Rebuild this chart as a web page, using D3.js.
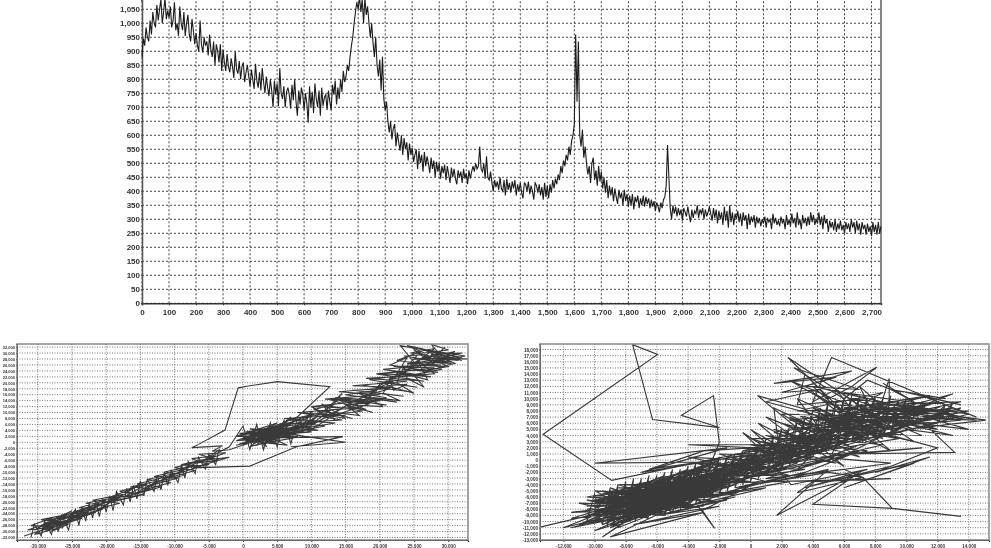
<!DOCTYPE html>
<html>
<head>
<meta charset="utf-8">
<script src="https://cdn.jsdelivr.net/npm/d3@7"></script>
<style>
html, body { margin: 0; padding: 0; background: #fff; overflow: hidden; }
svg { display: block; filter: blur(0.45px); }
text { font-family: "Liberation Sans", Arial, sans-serif; font-weight: bold; fill: #333; }
</style>
</head>
<body>
<script>
// Spectrum, one value every 5 units of x
var spectrumStep = 5;
var spectrum = [
880,945,920,985,950,935,1010,960,1040,1000,985,1065,1010,1050,1085,1000,1040,1090,1015,1045,
1020,1060,985,1010,1075,975,1000,955,1060,1000,975,1040,955,1000,1030,960,935,1015,975,925,
965,920,900,1010,925,895,950,920,935,885,960,905,880,935,850,925,900,860,925,830,
905,860,830,890,845,825,875,845,805,900,835,820,865,800,845,860,790,825,850,810,
775,835,800,765,855,795,770,825,760,840,790,750,810,770,740,800,760,700,795,745,
785,705,840,750,730,775,700,755,770,745,695,780,725,800,720,670,760,710,770,745,
690,750,715,645,775,700,755,680,785,730,700,760,670,770,705,735,745,690,760,720,
690,780,745,795,710,770,730,800,755,830,790,810,850,830,880,920,950,1000,1040,1075,
1050,1095,1040,1085,1000,1090,1030,1060,1000,950,1000,930,880,950,850,810,870,760,880,730,
690,720,650,610,650,585,625,640,560,610,575,545,600,530,590,550,575,510,570,530,
555,505,530,550,480,545,500,530,470,540,490,525,500,465,520,480,510,450,505,470,
500,445,490,465,495,440,490,460,430,485,450,480,445,425,475,450,470,430,480,445,
465,425,475,445,470,490,470,500,480,490,560,480,470,500,445,525,450,440,470,430,
400,440,415,435,405,450,410,400,440,385,445,405,430,395,435,410,440,385,425,400,
430,395,375,430,425,400,435,390,420,400,370,430,420,395,425,385,415,370,430,380,
420,375,425,395,440,410,445,425,460,440,490,465,510,490,530,510,560,530,580,600,
640,960,720,935,600,560,620,520,560,500,460,490,430,500,520,440,475,420,490,435,
470,410,450,395,440,375,420,385,415,365,410,380,355,405,375,395,350,405,365,390,
345,385,350,390,335,380,360,385,340,375,350,385,345,380,355,375,340,370,345,365,
330,360,345,325,360,340,370,380,420,565,450,340,300,350,320,345,310,340,315,335,
295,340,325,310,345,315,290,335,305,330,320,350,305,335,320,340,300,335,310,325,
345,320,295,340,305,335,285,330,300,325,280,345,295,330,270,350,290,325,280,320,
300,330,290,320,275,325,295,315,265,320,280,310,290,315,270,310,285,305,275,300,
285,310,270,305,290,300,265,320,285,305,280,295,275,310,285,300,265,315,280,300,
275,320,285,305,270,325,280,300,265,315,285,305,275,310,280,325,290,315,280,300,
285,325,280,310,265,315,285,300,255,295,270,290,260,300,255,285,265,295,260,280,
250,290,265,285,255,300,270,290,250,295,260,285,245,290,265,280,245,285,255,275,
240,290,255,280,245,290,250,275
];
var spectrumXTicks = d3.range(0, 2701, 100);
var spectrumYTicks = d3.range(0, 1051, 50);

// Lower left plot, traced as one long line
var leftPath = [
[-32000,-31500],[-28000,-28500],[-31500,-29500],[-27000,-26000],[-30500,-31000],[-26500,-28500],[-31000,-28000],[-28000,-25500],[-29500,-30500],[-25500,-26500],
[-30000,-28500],[-26000,-24000],[-29000,-29500],[-24500,-26000],[-28500,-27500],[-24000,-23500],[-29500,-26000],[-25500,-27500],[-28000,-30000],[-24000,-24500],
[-27500,-26500],[-23000,-22500],[-27000,-28000],[-23500,-25500],[-29000,-27500],[-25000,-23000],[-30500,-29500],[-26000,-27000],[-28500,-26000],[-22500,-24000],
[-26500,-25000],[-22000,-21500],[-26000,-27000],[-21500,-23500],[-25500,-24000],[-21000,-20500],[-24500,-25500],[-20500,-22500],[-24000,-22000],[-20000,-19500],
[-23500,-24500],[-19500,-21500],[-23000,-20500],[-18500,-18500],[-22500,-23000],[-18000,-20500],[-22000,-19500],[-17500,-17500],[-21000,-22500],[-18500,-18500],
[-20500,-20500],[-15500,-18000],[-19500,-18500],[-16000,-15500],[-19000,-20000],[-14500,-17500],[-18000,-16500],[-14000,-14000],[-17500,-18500],[-13500,-15500],
[-16500,-15000],[-12500,-13000],[-16000,-17500],[-12000,-15000],[-15500,-14000],[-11000,-11500],[-14500,-16000],[-10500,-13500],[-14000,-12500],[-10000,-10500],
[-13500,-14500],[-9500,-12000],[-13000,-11500],[-8500,-9000],[-12000,-13000],[-8500,-11000],[-11500,-10000],[-7500,-8000],[-11000,-12000],[-7000,-9500],
[-10000,-8500],[-6500,-6500],[-9500,-10500],[-6000,-8000],[-9000,-7500],[-5000,-5500],[-8500,-8500],[-5000,-7500],[-7500,-5500],[-4000,-4500],
[-7000,-7000],[-3500,-6000],[-6500,-4000],[-2500,-3500],[-5500,-6000],[-2000,-5000],[-7300,-8600],[1000,-8000],[7850,-1500],[14600,1900],
[4000,1500],[-1000,-1000],[2500,1000],[-2000,-2500],[-4500,-3000],[-3000,-1200],[-7500,-1800],[-6500,-700],[-2630,4100],[-700,18300],
[1000,19000],[5000,20400],[12700,18700],[7000,6500],[1000,3500],[4500,1000],[-500,1000],[5500,4500],[500,-500],[6500,2500],
[1500,3500],[5000,-500],[-500,2500],[7000,4000],[1500,500],[4500,5000],[-1000,500],[8000,2000],[2000,2500],[3500,-1500],
[500,3500],[6000,5500],[2500,-500],[7500,1500],[-500,3000],[4000,3500],[1000,-1500],[8500,3500],[2500,4500],[5500,500],
[0,1500],[7000,6000],[3000,500],[6000,2000],[-1000,2000],[5000,6500],[1500,1500],[8500,5500],[3500,2000],[6500,-1000],
[500,500],[4000,5500],[2000,-1000],[9000,4000],[1000,4500],[5000,2500],[-500,-500],[7500,4500],[3000,3000],[10000,3500],
[2000,2000],[6000,4000],[1000,2500],[8000,7500],[4000,3000],[9500,5500],[3000,1000],[7000,8500],[5000,3500],[10500,6500],
[6000,6000],[11000,4000],[4500,4500],[9000,8500],[7500,3500],[12000,5500],[8000,6500],[10500,9500],[6500,7500],[13500,6500],
[9500,5000],[12500,9000],[8000,10000],[14500,7500],[10500,7000],[13000,11000],[9000,8500],[15000,9000],[11000,9500],[13500,13000],
[10500,11000],[16000,8000],[12000,10500],[14500,16500],[13000,12000],[17500,10500],[14000,9500],[18500,13000],[12500,14500],[19000,10000],
[15000,12500],[20000,14000],[13500,15000],[21000,12500],[16500,14000],[19500,17500],[15000,16000],[22500,13500],[17500,15500],[21500,18000],
[16000,17500],[23500,15500],[18500,17000],[22000,20500],[17500,19000],[24500,17000],[19500,18500],[23000,22500],[18500,21000],[25500,18500],
[20500,20000],[24000,24000],[19500,23000],[26500,20500],[21500,21500],[25000,25500],[20500,24500],[27500,22000],[22500,23000],[24000,28500],
[21500,26000],[28500,23500],[23500,24500],[26000,30500],[22500,27500],[29500,25500],[24500,26000],[27000,29500],[23500,29000],[30500,26500],
[25500,27000],[28000,31500],[24500,30000],[31500,27500],[26500,28500],[29000,30000],[23000,32500],[25500,25500],[30000,28500],[27000,31000],
[32500,29000],[28000,27000],[31000,30500],[26000,28000],[33000,28000],[29000,28500],[32000,30000],[27500,29500],[30500,27000],[25000,28000],
[31500,28500],[24000,26500],[29000,26000],[22000,25500],[28000,25000],[20000,23000],[26000,22500],[18000,21500],[24000,20500],[16000,19000],
[22000,18500],[14000,17000],[20000,16000],[12000,14500],[18000,14000],[10000,12000],[16000,11500],[8000,10000],[14000,9000],[6000,8000],
[12000,7000],[5000,6000],[10000,5000],[3000,4500],[9000,2000],[15000,0],[7000,-1500]
];

// second pass of the left band, crossing the first one
var leftExtra = [
[-31000,-32000],[-30500,-27500],[-29500,-31500],[-29000,-26500],[-28000,-31000],[-27500,-26000],[-27000,-30000],[-26500,-24500],[-25500,-29500],[-25000,-24000],
[-26500,-29000],[-24500,-22500],[-24000,-28000],[-23500,-22000],[-23000,-26500],[-22500,-20500],[-22000,-25500],[-21500,-20000],[-21000,-25000],[-20500,-19000],
[-20000,-23500],[-19500,-18000],[-19000,-23000],[-18500,-16500],[-17500,-21000],[-17000,-15500],[-16500,-20000],[-16000,-14500],[-15500,-19000],[-15000,-13000],
[-14500,-18000],[-14000,-12500],[-13000,-16500],[-12500,-11000],[-12000,-16000],[-11500,-10000],[-11000,-14500],[-10500,-9500],[-9500,-13500],[-9000,-7500],
[-8500,-12000],[-8000,-6500],[-7000,-10500],[-6500,-5000],[-5500,-9000],[-5000,-4000],[-4000,-7500],[-3500,-2500],[-6000,-6500],[-2000,-1500],
[0,5500],[1000,-2500],[2000,6000],[3000,-2500],[4000,6500],[5000,-1500],[6000,7500],[7000,-500],[8000,8500],[3000,4000],
[0,-1000],[4500,3500],[1500,-500],[6500,4500],[2500,3000],[5000,1500],[1000,3000],[3500,500],[6000,3000],[2000,4000],
[4000,1000],[7000,2500],[500,2000],[5500,3000],[3000,-1000],[6500,6500],[1500,2000],[8000,4500],[4000,2500],[9000,6500],
[7000,3000],[11000,9000],[8500,4000],[10000,10500],[9500,3500],[12500,8000],[10000,12000],[13500,7500],[11500,13000],[15000,8000],
[12500,9000],[16000,13500],[13500,10000],[17000,9000],[14000,14500],[18000,11000],[15500,11500],[19000,16000],[16500,12500],[20500,12000],
[17000,16500],[21000,15000],[18000,13500],[20000,19500],[19000,15000],[23000,14000],[20500,16500],[21500,21000],[22000,17500],[24000,19500],
[21000,19000],[25000,16500],[22500,20000],[23500,25500],[24000,21500],[26500,18500],[25000,22500],[22000,24000],[27000,21000],[25500,27500],
[28000,23000],[24500,22500],[29000,24500],[25000,31000],[30000,25500],[26500,24000],[31000,26500],[26000,31500],[32000,27500],[28500,29500],
[29500,32000],[27000,26000],[31000,29000],[28000,30500],[32000,28500],[24000,32500],[26500,30000],[30000,31000],[27500,33000],[29500,27500]
];

// Lower right plot, same idea
var rightPath = [
[-13500,-10900],[-9500,-8500],[-12000,-11000],[-8000,-8500],[-11500,-9500],[-7000,-6000],[-11000,-10500],[-6500,-8500],[-10500,-6500],[-6000,-7500],
[-10500,-10000],[-6000,-5000],[-10000,-9000],[-5500,-7500],[-11000,-7000],[-6500,-9500],[-10000,-5000],[-5000,-6000],[-9500,-10500],[-4500,-5000],
[-10500,-8000],[-5500,-9000],[-9000,-4500],[-5000,-8000],[-11500,-8500],[-4500,-6500],[-9500,-9500],[-6000,-4000],[-10000,-7500],[-4000,-7000],
[-9000,-10500],[-4500,-3500],[-10500,-6000],[-5500,-7000],[-8500,-9500],[-3500,-5000],[-10000,-10000],[-7000,-3500],[-9000,-8500],[-3000,-6000],
[-8000,-10000],[-4000,-2500],[-9500,-5500],[-3500,-7500],[-8500,-4000],[-3000,-3500],[-8000,-9000],[-2500,-5000],[-9000,-6500],[-2000,-2500],
[-7500,-9500],[-2500,-6500],[-8500,-5000],[-2000,-4000],[-7000,-9000],[-3000,-1500],[-8000,-7000],[-1500,-4500],[-7500,-4000],[-2000,-1500],
[-6500,-8500],[-1000,-4000],[-8500,-7500],[-1500,-1500],[-7000,-5000],[-500,-3500],[-6000,-8000],[-1500,-3000],[-7500,-6500],[0,-1500],
[-6500,-4000],[-1000,-5500],[-9500,-8000],[-3000,-4000],[-10000,-8500],[-4500,-4500],[-7000,-7000],[-2000,-5500],[-9000,-7000],[-4000,-2500],
[-8500,-8000],[-3000,-7500],[-9500,-7000],[-5000,-4500],[-8000,-8500],[-3500,-4500],[-10500,-9000],[-6000,-6000],[-7500,-8000],[-2500,-3500],
[-9500,-6000],[-5000,-7000],[-8000,-6000],[-3500,-6500],[-10000,-6500],[-5500,-5000],[-8500,-9000],[-4000,-5500],[-9000,-8000],[-6500,-5500],
[-7000,-8000],[-4500,-3500],[-8500,-6500],[-5500,-8000],[-6500,-6500],[-2000,-3000],[-10000,-7500],[-6000,-7000],[-7500,-5500],[-3500,-3000],
[-9000,-9000],[-5500,-6000],[-7000,-6000],[-3000,-5000],[-8000,-7500],[-4500,-5500],[-6000,-5500],[-1500,-2500],[-5000,-5000],[-1000,-500],
[-6000,-3000],[500,-2500],[-5000,-6500],[1000,-1000],[-4500,-2000],[0,-3500],[-5500,-4500],[1500,500],[-4000,-4000],[1000,-3500],
[-3500,-500],[2000,-1500],[-4500,-5500],[2500,1000],[-3000,-2500],[1500,-2500],[-4000,500],[3000,-500],[-2500,-4500],[3000,2000],
[-3500,-1500],[2500,-2500],[-2000,1000],[4000,500],[-3000,-4000],[3500,3000],[-1500,-1000],[3500,-1500],[-2000,-3500],[4500,1500],
[-4000,2500],[2000,2500],[-8900,-3300],[-13300,4200],[-5960,17200],[-7560,18800],[-6280,6600],[-2000,5300],[-4430,7300],[-2370,10500],
[-2000,2900],[-2500,-300],[-10000,-500],[-1500,2000],[-7000,-2000],[-1000,500],[-6500,-1500],[-3000,1500],[0,2000],[5000,3500],
[-1000,-2000],[6000,1000],[-500,1500],[4500,4500],[500,-1000],[7000,3500],[0,3500],[5500,-500],[1000,1500],[6500,5500],
[500,-2500],[7500,1500],[1500,3500],[4000,5500],[-500,-3000],[8000,4500],[2000,500],[5500,6500],[1000,-2000],[8500,2500],
[2500,4000],[6000,-1000],[450,10500],[6000,6500],[2000,-500],[9000,4500],[3000,6000],[7000,500],[1500,4500],[8000,7000],
[3500,1000],[9500,3500],[2500,6500],[6500,7500],[3000,-1500],[10000,5500],[4000,3000],[7500,8500],[3500,5000],[11000,4000],
[2500,13000],[8000,5000],[4500,1500],[6500,9000],[5000,-500],[10500,6500],[4000,6500],[9000,8000],[5500,2500],[12000,6000],
[4500,7500],[9000,1500],[5500,9000],[11000,8000],[6000,4000],[12500,7000],[5000,8000],[9500,9500],[7000,2500],[13000,8500],
[5500,6000],[10500,3000],[2400,16700],[6500,6500],[12000,9500],[7000,5000],[13500,6500],[6000,8500],[10500,10000],[8000,3500],
[14000,7500],[6500,10000],[12000,5000],[7500,7000],[13000,10800],[8000,6000],[8900,13300],[8900,9500],[11500,10500],[7500,8000],
[14000,8000],[9000,5500],[12500,9000],[5200,16700],[4000,9500],[8100,15100],[6500,12000],[5000,10000],[3500,14000],[3000,9000],
[7500,10000],[4000,12000],[6000,7500],[8500,11000],[3000,8000],[10000,8500],[6000,11000],[11500,9000],[4500,6000],[9000,7000],
[13500,9500],[8000,9000],[15100,6500],[10000,5000],[13000,4000],[9000,6500],[14000,5000],[10500,7500],[13100,1250],[6000,1000],
[11000,2000],[4500,500],[9000,-500],[3000,-2500],[7000,1500],[1000,-3000],[6000,-1500],[7200,-2800],[3000,-5300],[4000,-3500],
[9000,-3000],[1500,-3500],[5000,-1500],[1670,-9000],[7000,-2000],[4000,-7200],[9100,-7850],[13500,-9150],[9100,-7850],[7200,-2800],
[5000,-2000],[-1000,-4500],[3500,-2000],[-2000,-5500],[2500,-3500],[-3000,-6000],[1000,-4500],[-4000,-7500],[500,-3500],[-3080,-8200],
[-2300,-11100],[-3500,-7000],[-1500,-6500],[-5000,-8500],[-1000,-6000],[-6000,-9000],[-2000,-7500],[-7500,-10500],[-3000,-8500],[-9000,-12500],
[-4000,-6500],[-8500,-11000],[-5000,-7500],[-10000,-11500],[-6000,-7000],[-11500,-11000],[-7500,-9000],[-9500,-12500],[-6500,-7500],[-9000,-11000],
[-3500,-6000],[-8000,-9500],[-2500,-4000],[-6500,-8500],[-1500,-3500],[-7000,-7000],[-3000,-3500],[-8000,-8000],[-5000,-4000],[-7000,-8500],
[-4000,-5000],[-8500,-7000],[-5500,-7500],[-9000,-5500],[-6000,-8000],[-9500,-8500],[-5000,-6000],[-7500,-7000],[-4000,-6000],[-8500,-5500],
[-6000,-6500],[-10500,-7500],[-5000,-5000],[-7000,-7500],[-3500,-4000],[-9000,-7500],[-5500,-5500],[-8000,-5000],[-4500,-6500],[-7500,-7500],
[-3000,-4500],[-6500,-7000],[-2000,-3500],[-5000,-6000],[-1500,-1500],[-4000,-3500],[-500,-1500],[-3500,-3000],[500,0],[-3000,-2000],
[1000,500],[-2500,-2500],[1500,1500],[-1500,-1500],[2000,1500],[-1000,-2500],[3000,3000],[0,-500],[3500,1500],[-500,500],
[4000,4000],[1000,1000],[4500,2500],[1500,-500],[5000,5000],[2000,2000],[5500,3000],[2500,1000],[6000,6000],[3000,4000],
[6500,4000],[3500,2500],[7000,6500],[4000,5000],[7500,5000],[4500,3500],[8000,7500],[5000,6000],[8500,5500],[5500,4500],
[9000,7500],[6000,5000],[9500,6500],[6500,6000],[10000,7500],[7000,6000],[11000,7500],[7500,6500],[12000,8000],[8000,7500]
];

// second pass of the right band, steeper strokes that fill the dark part
var rightExtra = [
[-10500,-10000],[-10000,-5500],[-9500,-10500],[-9000,-4500],[-9200,-10800],[-8500,-4000],[-8800,-10500],[-8000,-3500],[-8200,-10500],[-7500,-3000],
[-7800,-10000],[-7000,-3000],[-7400,-10000],[-6500,-2500],[-7000,-9500],[-6000,-2500],[-6600,-9500],[-5500,-2000],[-6000,-9000],[-5000,-1500],
[-5500,-9000],[-4500,-1500],[-5000,-8500],[-4000,-1000],[-4500,-8000],[-3500,-500],[-4000,-7500],[-3000,0],[-3500,-7000],[-2500,0],
[-3000,-6500],[-2000,500],[-2500,-6000],[-1500,500],[-2000,-5500],[-1000,1000],[-1500,-5000],[-500,1500],[-1000,-4500],[0,2000],
[-500,-4000],[500,2500],[0,-3500],[1000,3500],[500,-3000],[1500,4000],[1000,-2500],[2000,5000],[1500,-2000],[2500,5500],
[2000,-1500],[3000,6500],[2500,-1000],[3500,7000],[3000,-500],[4000,8000],[3500,0],[4500,8500],[4000,500],[5000,9500],
[4500,1000],[5500,9500],[5000,1500],[6000,10000],[5500,2000],[6500,10500],[6000,2500],[7000,10500],[6500,3000],[7500,10000],
[7000,3000],[8000,10500],[7500,3500],[8500,10000],[8000,4000],[9000,10500],[8500,4000],[9500,9500],[9000,4500],[10000,10000],
[9500,5000],[10500,9000],[10000,5000],[11000,9500],[11500,6500],[12500,9000],[12000,6000],[13000,9500],[12500,6500],[13500,8500],
[-9000,-7500],[-4500,-4000],[-8000,-4500],[-5000,-8500],[-7000,-4000],[-4000,-8000],[-6000,-3500],[-3000,-7000],[-5000,-3000],[-2000,-6000],
[-10000,-6000],[-5500,-8500],[-9500,-5000],[-4500,-7500],[-9000,-5000],[-3500,-6000],[-8500,-4500],[-2500,-4500],[-8000,-4000],[-2000,-3500],
[-10000,-9500],[-7000,-9000],[-9000,-9500],[-6000,-8500],[-8500,-10000],[-5000,-7000],[-7500,-8500],[-4500,-7000],[-7000,-9000],[-3500,-5500],
[-6500,-8000],[-3000,-5500],[-6000,-7500],[-2500,-5500],[-5500,-7000],[-2000,-4500],[-5000,-6500],[-1500,-4000],[-4500,-6000],[-1000,-3000],
[-9500,-6500],[-6500,-3500],[-9000,-6000],[-6000,-3000],[-8500,-5500],[-5500,-2500],[-8000,-5500],[-5000,-2500],[-7500,-5000],[-4500,-2000],
[-7000,-4500],[-4000,-1500],[-6500,-4500],[-3500,-1500],[-6000,-4000],[-3000,-1000],[-5500,-3500],[-2500,-500],[-5000,-3500],[-2000,0],
[-10000,-7000],[-6500,-6500],[-9500,-7500],[-6000,-6500],[-9000,-7000],[-5500,-6500],[-8500,-7500],[-5000,-5500],[-8000,-6500],[-4500,-5000],
[-7500,-6000],[-4000,-4500],[-7000,-6500],[-3500,-3500],[-6500,-5000],[-3000,-3000],[-6000,-5500],[-2500,-2500],[-5500,-4000],[-2000,-2000],
[-4500,-4500],[-3000,-5000],[-5000,-4500],[-2500,-3000],[-4000,-3000],[-1500,-3500],[-3500,-2500],[0,-1000],[-3000,-500],[500,-1000],
[-2000,-1000],[1500,1000],[-1500,500],[2000,-500],[-1000,1000],[3000,1500],[-500,2000],[3500,500],[0,2500],[4000,2000],
[500,3000],[4500,1000],[1000,4000],[5000,2500],[1500,5000],[5500,1500],[2000,6000],[6000,3500],[2500,7000],[6500,2000],
[3000,7500],[7000,4000],[3500,8000],[7500,3000],[4000,8500],[8000,5000],[4500,7000],[8500,3500],[5000,7500],[9000,5500],
[5500,8000],[9500,4500],[6000,8000],[10000,6000],[6500,8500],[10500,5000],[7000,8500],[11000,6500],[7500,9000],[11500,7500],
[8000,8500],[12000,7000],[8500,8500],[12500,8000],[9000,9000],[13000,7500],[9500,8500],[14000,6500],[10000,9000],[14500,6500],
[2000,7500],[5000,3000],[1000,7000],[4000,1500],[500,6000],[3000,500],[0,5000],[2500,-500],[-500,4500],[2000,-1500],
[1500,8500],[4500,5000],[3000,10000],[6500,6000],[4000,11000],[7000,6500],[5500,11500],[8000,7000],[7000,12000],[9000,7500]
];

// third pass, the solid part of the band and the loose strokes above and below it
var rightFill = [
[-10000,-8000],[-8800,-5200],[-9600,-9200],[-8200,-4800],[-9300,-8200],[-7600,-4200],[-9000,-9800],[-7200,-4700],[-8600,-8800],[-6800,-3600],
[-8300,-9600],[-6300,-3300],[-7900,-8700],[-5800,-3000],[-7500,-9200],[-5400,-2600],[-7100,-8400],[-4900,-2300],[-6700,-8900],[-4400,-2100],
[-6300,-7900],[-3900,-1800],[-5900,-8300],[-3400,-1300],[-5400,-7400],[-2900,-800],[-4900,-7700],[-2400,-900],[-4400,-6800],[-1900,-300],
[-3900,-7100],[-1400,-200],[-3400,-6200],[-900,500],[-2900,-5800],[-400,800],[-2400,-5200],[100,1200],[-1900,-4800],[600,1900],
[2600,-4000],[7500,-1500],[3500,-4500],[9000,-1000],[5000,-3500],[10500,-500],[6000,-4500],[11500,500],[8000,-2000],[12000,2000],
[1000,9500],[4500,11500],[2000,11000],[5500,13500],[1500,12500],[6500,14500],[3500,12000],[7000,11500],[2800,15000],[6000,10000],
[7500,13000],[9500,11000],[8500,12500],[10500,9500],[9000,11500],[12500,10000],[10000,11000],[13500,9000],[11000,10500],[14500,7000]
];

var leftXTicks = d3.range(-30000, 30001, 5000);
var leftYTicks = d3.range(-32000, 32001, 2000);
var rightXTicks = d3.range(-12000, 14001, 2000);
var rightYTicks = d3.range(-13000, 18001, 1000);

var svg = d3.select("body").append("svg").attr("width", 991).attr("height", 548);

function commaFormat(d) {
    return d3.format(",")(d).replace("\u2212", "-");
}

// grid, frame and axes for one plot
function drawFrame(x, y, xTicks, yTicks, xFont, yFont, gridDash, gridColor) {
    var x0 = x.range()[0], x1 = x.range()[1], y0 = y.range()[0], y1 = y.range()[1];

    svg.append("g").selectAll("line").data(yTicks).enter().append("line")
        .attr("x1", x0).attr("x2", x1)
        .attr("y1", function(d) { return y(d); }).attr("y2", function(d) { return y(d); })
        .attr("stroke", gridColor).attr("stroke-dasharray", gridDash);
    svg.append("g").selectAll("line").data(xTicks).enter().append("line")
        .attr("y1", y0).attr("y2", y1)
        .attr("x1", function(d) { return x(d); }).attr("x2", function(d) { return x(d); })
        .attr("stroke", gridColor).attr("stroke-dasharray", gridDash);

    var xAxis = svg.append("g").attr("transform", "translate(0," + y0 + ")")
        .call(d3.axisBottom(x).tickValues(xTicks).tickFormat(commaFormat).tickSize(2).tickPadding(xFont * 0.55));
    var yAxis = svg.append("g").attr("transform", "translate(" + x0 + ",0)")
        .call(d3.axisLeft(y).tickValues(yTicks).tickFormat(commaFormat).tickSize(1).tickPadding(1));
    xAxis.selectAll("text").style("font-size", xFont + "px");
    yAxis.selectAll("text").style("font-size", yFont + "px");
    [xAxis, yAxis].forEach(function(a) {
        a.attr("font-family", null).attr("font-size", null);
        a.selectAll("line").attr("stroke", "#333");
    });
    return [xAxis, yAxis];
}

// Top spectrum
var xTop = d3.scaleLinear().domain([0, 2735]).range([142, 881]);
var yTop = d3.scaleLinear().domain([0, 1083]).range([303.3, 0]);
var topAxes = drawFrame(xTop, yTop, spectrumXTicks, spectrumYTicks, 8, 8, "2,2", "#444");
topAxes[0].select(".domain").attr("stroke", "#333").attr("stroke-width", 1.5);
topAxes[1].select(".domain").attr("stroke", "#555").attr("stroke-width", 1.5);
svg.append("line").attr("x1", 881).attr("x2", 881).attr("y1", 0).attr("y2", 303.3)
    .attr("stroke", "#888").attr("stroke-width", 2);

var specLine = d3.line()
    .x(function(d, i) { return xTop(i * spectrumStep); })
    .y(function(d) { return yTop(d); });
svg.append("path").datum(spectrum).attr("d", specLine)
    .attr("fill", "none").attr("stroke", "#1c1c1c").attr("stroke-width", 1.1);

// Lower plots
function drawCloud(x, y, xTicks, yTicks, yFont, paths, lineWidth) {
    drawFrame(x, y, xTicks, yTicks, 4.6, yFont, "1,1.5", "#777");
    var clipId = "clip" + Math.round(x.range()[0]);
    svg.append("clipPath").attr("id", clipId).append("rect")
        .attr("x", x.range()[0]).attr("y", y.range()[1])
        .attr("width", x.range()[1] - x.range()[0]).attr("height", y.range()[0] - y.range()[1]);
    var line = d3.line()
        .x(function(d) { return x(d[0]); })
        .y(function(d) { return y(d[1]); });
    svg.append("g").attr("clip-path", "url(#" + clipId + ")")
        .selectAll("path").data(paths).enter().append("path")
        .attr("d", line)
        .attr("fill", "none").attr("stroke", "#3a3a3a").attr("stroke-width", lineWidth);
    svg.append("rect").attr("x", x.range()[0]).attr("y", y.range()[1])
        .attr("width", x.range()[1] - x.range()[0]).attr("height", y.range()[0] - y.range()[1])
        .attr("fill", "none").attr("stroke", "#888").attr("stroke-width", 1.5);
}

var xLeft = d3.scaleLinear().domain([-33040, 32900]).range([17, 468]);
var yLeft = d3.scaleLinear().domain([-32840, 33040]).range([540, 344]);
drawCloud(xLeft, yLeft, leftXTicks, leftYTicks, 4, [leftPath, leftExtra], 1.1);

var xRight = d3.scaleLinear().domain([-13500, 15300]).range([540, 989]);
var yRight = d3.scaleLinear().domain([-13000, 18900]).range([540, 344]);
drawCloud(xRight, yRight, rightXTicks, rightYTicks, 4.6, [rightPath, rightExtra, rightFill], 1.15);
</script>
</body>
</html>
